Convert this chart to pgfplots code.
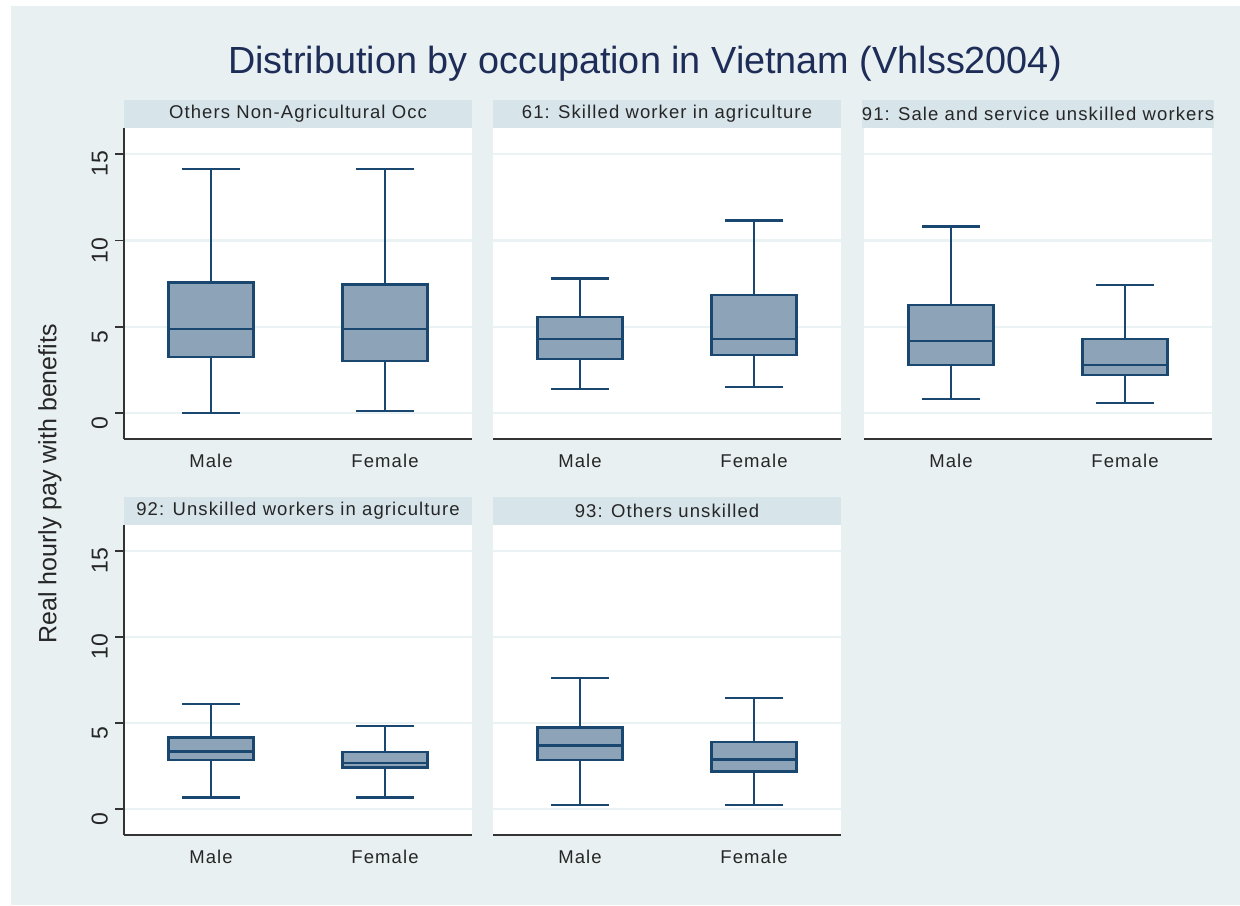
\documentclass[border=0pt]{standalone}
\usepackage{pgfplots}
\pgfplotsset{compat=1.18}
\usepgfplotslibrary{statistics}
\usepackage{fontspec}
\setmainfont{Liberation Sans}
\newfontfamily\lab[LetterSpace=6]{Liberation Sans}
\definecolor{bgcol}{RGB}{232,240,242}
\definecolor{stripcol}{RGB}{215,228,234}
\definecolor{gridcol}{RGB}{234,242,243}
\definecolor{navy}{RGB}{26,71,111}
\definecolor{boxfill}{RGB}{141,163,183}
\definecolor{titlecol}{RGB}{30,45,88}
\pgfplotsset{
 every non boxed x axis/.append style={x axis line style={-}},
 every non boxed y axis/.append style={y axis line style={-}},
 panel/.style={
   scale only axis, width=174pt,
   anchor=south west,
   xmin=0.5,xmax=2.5, ymin=-1.5,ymax=16.5,
   axis x line*=bottom, axis y line*=left,
   axis line style={black!80, line width=1pt},
   xtick={1,2}, xticklabels={Male,Female},
   ytick={0,5,10,15},
   x tick style={draw=none},
   ytick align=outside, major tick length=4.5pt,
   y tick style={black!80, line width=0.8pt},
   ymajorgrids, grid style={gridcol, line width=1.2pt},
   axis background/.style={fill=white},
   tick label style={font=\lab\fontsize{9.25}{11}\selectfont, text=black!85},
   /pgf/number format/assume math mode=true,
   yticklabel style={rotate=90, anchor=south, font=\fontsize{11.5}{12}\selectfont, xshift=-5pt},
   xticklabel style={yshift=-4pt},
   every axis title shift=0pt,
   title style={at={(0.5,1)}, anchor=south, yshift=0pt, fill=stripcol, minimum width=174pt, minimum height=14pt, inner sep=0pt, font=\lab\fontsize{9.25}{11}\selectfont, text=black!85},
   boxplot/draw direction=y,
   boxplot/box extend=0.49, boxplot/whisker extend=0.33,
 },
 noy/.style={y axis line style={draw=none}, yticklabels={}, y tick style={draw=none}},
 bx/.style={boxplot prepared={#1}, draw=navy, fill=boxfill, line width=1.2pt, solid},
}
\begin{document}
\begin{tikzpicture}
\useasboundingbox (0,0) rectangle (620pt,-452.5pt);
\fill[white] (0,0) rectangle (620pt,-452.5pt);
\fill[bgcol] (5.5pt,-3pt) rectangle (620pt,-452.5pt);
\node[font=\fontsize{18.9}{22}\selectfont, text=titlecol, anchor=base] at (322.5pt,-36.75pt) {Distribution by occupation in Vietnam (Vhlss2004)};
\node[rotate=90, font=\fontsize{12.5}{15}\selectfont, text=black!85] at (25pt,-242pt) {Real hourly pay with benefits};

\begin{axis}[panel, height=155.5pt, at={(62pt,-219.5pt)}, title={Others Non-Agricultural Occ}]
\addplot[bx={draw position=1, lower whisker=0.0, lower quartile=3.25, median=4.88, upper quartile=7.55, upper whisker=14.14}] coordinates {};
\addplot[bx={draw position=2, lower whisker=0.12, lower quartile=3.0, median=4.88, upper quartile=7.45, upper whisker=14.14}] coordinates {};
\end{axis}

\begin{axis}[panel, noy, height=155.5pt, at={(246.5pt,-219.5pt)}, title={61: Skilled worker in agriculture}]
\addplot[bx={draw position=1, lower whisker=1.39, lower quartile=3.13, median=4.30, upper quartile=5.57, upper whisker=7.78}] coordinates {};
\addplot[bx={draw position=2, lower whisker=1.51, lower quartile=3.35, median=4.30, upper quartile=6.85, upper whisker=11.14}] coordinates {};
\end{axis}

\begin{axis}[panel, noy, height=155.5pt, at={(432pt,-219.5pt)}, title={91: Sale and service unskilled workers}]
\addplot[bx={draw position=1, lower whisker=0.80, lower quartile=2.77, median=4.18, upper quartile=6.25, upper whisker=10.80}] coordinates {};
\addplot[bx={draw position=2, lower whisker=0.58, lower quartile=2.19, median=2.77, upper quartile=4.28, upper whisker=7.43}] coordinates {};
\end{axis}

\begin{axis}[panel, height=155pt, at={(62pt,-417.5pt)}, title={92: Unskilled workers in agriculture}]
\addplot[bx={draw position=1, lower whisker=0.69, lower quartile=2.85, median=3.35, upper quartile=4.16, upper whisker=6.11}] coordinates {};
\addplot[bx={draw position=2, lower whisker=0.69, lower quartile=2.41, median=2.68, upper quartile=3.33, upper whisker=4.84}] coordinates {};
\end{axis}

\begin{axis}[panel, noy, height=155pt, at={(246.5pt,-417.5pt)}, title={93: Others unskilled}]
\addplot[bx={draw position=1, lower whisker=0.23, lower quartile=2.87, median=3.70, upper quartile=4.74, upper whisker=7.63}] coordinates {};
\addplot[bx={draw position=2, lower whisker=0.23, lower quartile=2.18, median=2.89, upper quartile=3.91, upper whisker=6.45}] coordinates {};
\end{axis}
\end{tikzpicture}
\end{document}
